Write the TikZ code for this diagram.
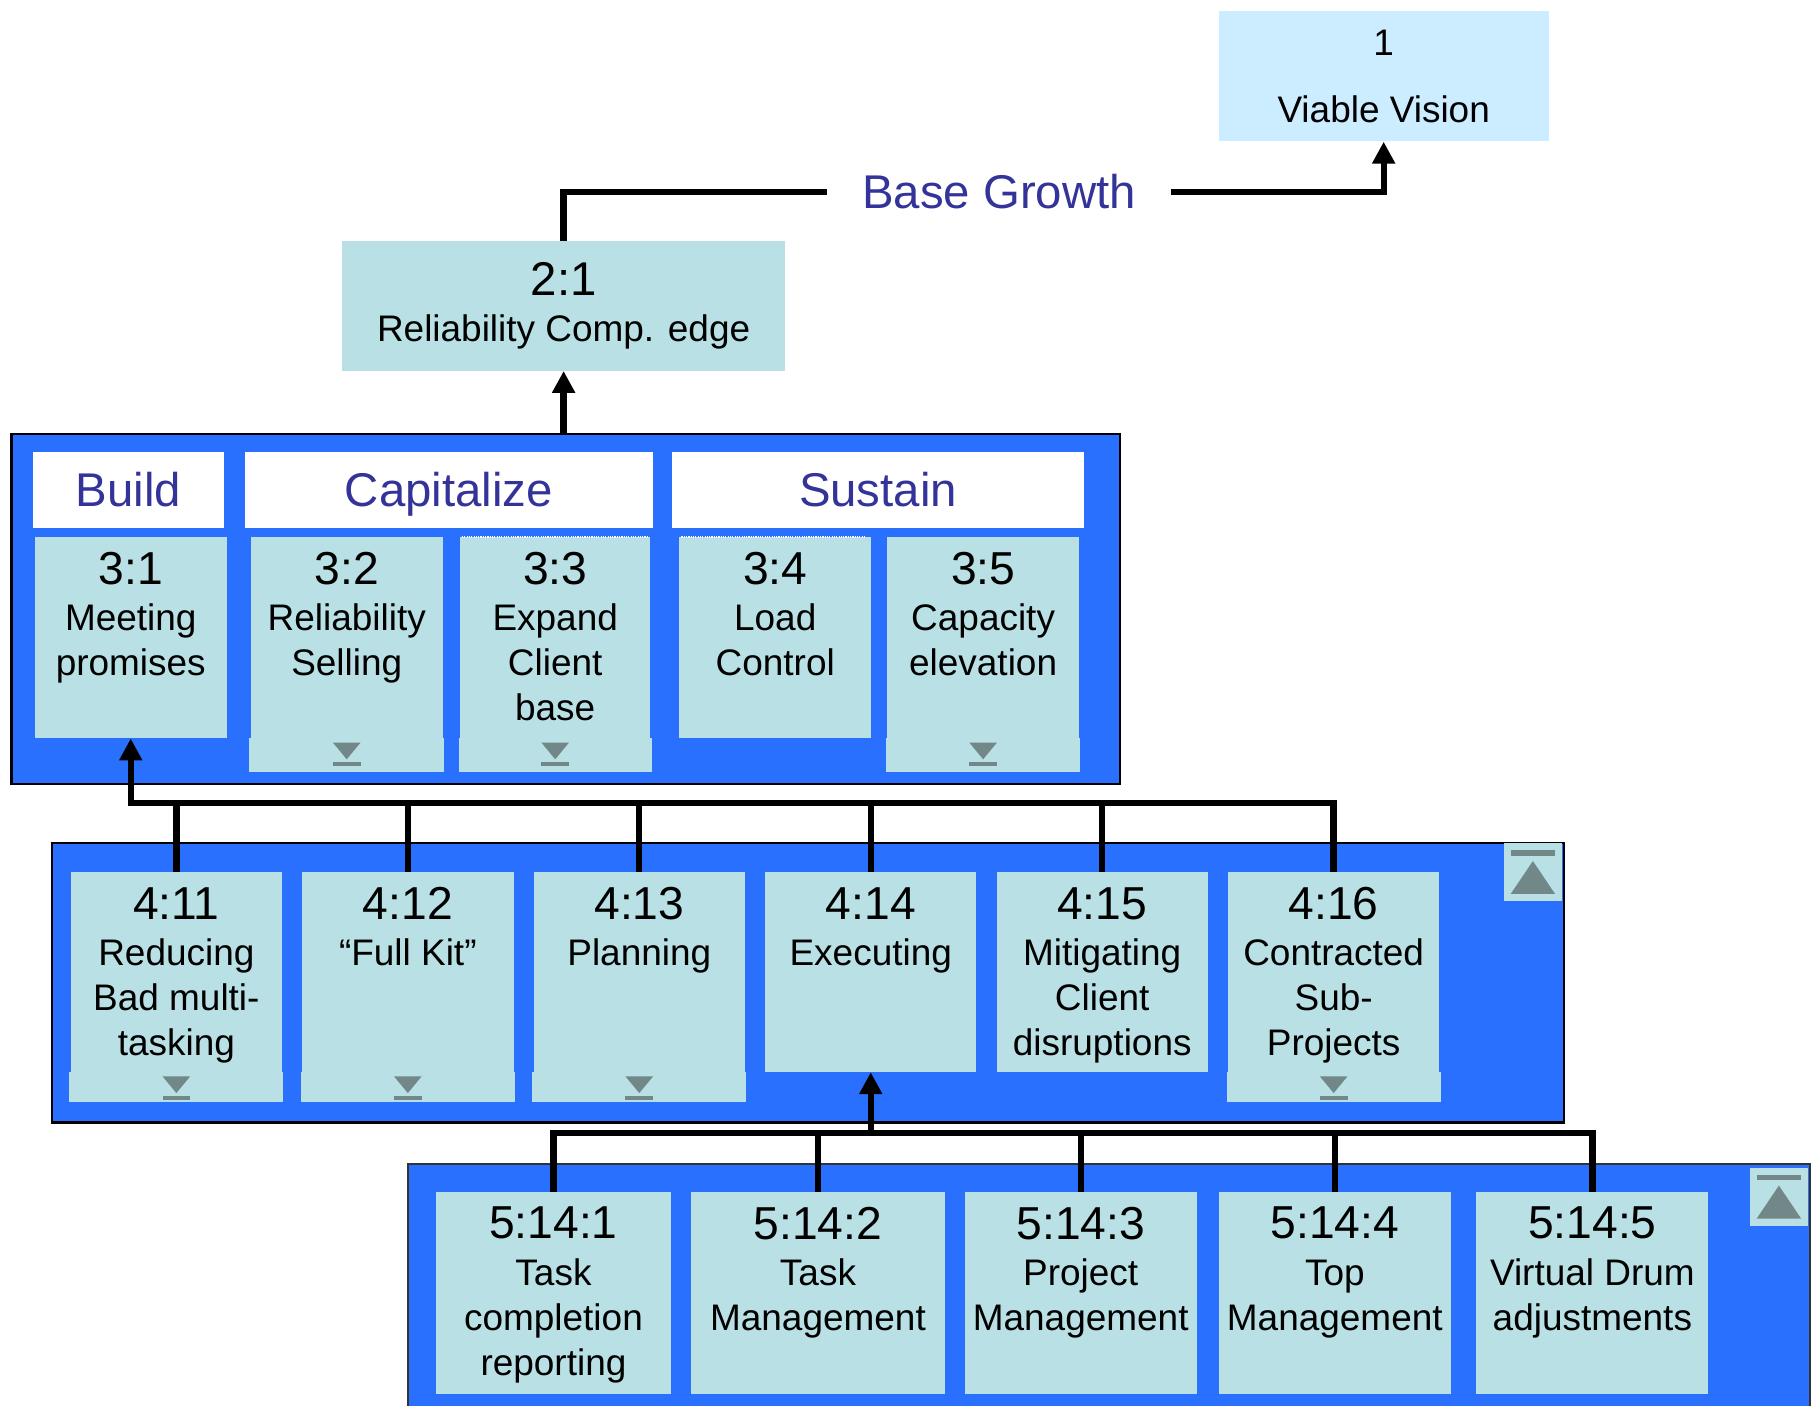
\documentclass[tikz,border=0pt]{standalone}
\usepackage{fontspec}
\setmainfont{Liberation Sans}
\usetikzlibrary{positioning,arrows.meta}

\definecolor{grpblue}{HTML}{2970FF}
\definecolor{cardfill}{HTML}{B9E0E4}
\definecolor{visionfill}{HTML}{CCECFF}
\definecolor{headblue}{HTML}{333399}
\definecolor{markgray}{HTML}{728888}

\tikzset{
  grpbox/.style={fill=grpblue, draw=black, line width=2pt, inner sep=0pt, anchor=north west},
  cardbox/.style={fill=cardfill, inner sep=0pt, anchor=north west},
  headbox/.style={fill=white, text=headblue, font=\fontsize{41}{41}\selectfont,
    minimum height=66pt, inner sep=0pt, text height=29pt, text depth=0pt, anchor=north west},
  headtext/.style={text=headblue, font=\fontsize{41}{41}\selectfont,
    inner xsep=30pt, inner ysep=0pt, text height=29pt, text depth=0pt},
  visionbox/.style={fill=visionfill, minimum width=286pt, minimum height=113pt,
    inner sep=0pt, align=center, font=\fontsize{32}{39}\selectfont},
  edgebox/.style={fill=cardfill, minimum width=384pt, minimum height=112pt,
    inner sep=0pt, align=center, font=\fontsize{32}{40}\selectfont},
  btnbox/.style={fill=cardfill, minimum size=50pt, inner sep=0pt, anchor=north west},
  link/.style={draw=black, line width=5.5pt},
  arrowup/.style={-{Triangle[length=19pt,width=19pt]}}
}

% card text: width, height, number, body
\newcommand{\cardtext}[4]{\parbox[t][#2][t]{#1}{\centering\fontsize{32}{39}\selectfont
  \vspace*{13pt}{\fontsize{40}{40}\selectfont #3}\\[1pt]#4}}
% expand tab below a card: node, tab height
\newcommand{\cardtab}[2]{%
  \fill[cardfill] ([xshift=-1pt]#1.south west) rectangle ([xshift=1pt,yshift=-#2]#1.south east);
  \fill[markgray] ([xshift=-12pt,yshift=-3.5pt]#1.south) -- ([xshift=12pt,yshift=-3.5pt]#1.south)
    -- ([yshift=-18pt]#1.south) -- cycle;
  \fill[markgray] ([xshift=-12pt,yshift=-20.5pt]#1.south) rectangle ([xshift=12pt,yshift=-24pt]#1.south);
}
% collapse button: name, top left corner
\newcommand{\upbutton}[2]{%
  \node[btnbox] (#1) at #2 {};
  \fill[markgray] ([xshift=6pt,yshift=-6pt]#1.north west) rectangle ([xshift=-6pt,yshift=-11pt]#1.north east);
  \fill[markgray] ([xshift=6pt,yshift=-44pt]#1.north west) -- ([xshift=-6pt,yshift=-44pt]#1.north east)
    -- ([yshift=-15.5pt]#1.north) -- cycle;
}

\begin{document}
\begin{tikzpicture}[x=1pt, y=-1pt, node distance=17pt]
\useasboundingbox (0,0) rectangle (1568,1217);
\clip (0,0) rectangle (1568,1217);

% top
\node[visionbox] (vv) at (1198,66) {1\\[19pt]Viable Vision};
\node[edgebox] (v21) at (488,265) {{\fontsize{41}{41}\selectfont 2:1}\\Reliability Comp. edge};
\node[headtext] (bg) at (865,166) {Base Growth};
\draw[link] (v21.north) |- (bg.west);
\draw[link, arrowup] (bg.east) -| (vv.south);

% level 3
\node[grpbox, minimum width=960pt, minimum height=303pt] (grp3) at (9,375) {};
\node[headbox, minimum width=166pt] (hbuild) at (28,391) {Build};
\node[headbox, minimum width=353pt] (hcap) at (212,391) {Capitalize};
\node[headbox, minimum width=356pt] (hsus) at (582,391) {Sustain};
\node[cardbox] (c31) at (30,465) {\cardtext{166pt}{174pt}{3:1}{Meeting\\promises}};
\node[cardbox] (c32) at (217,465) {\cardtext{166pt}{174pt}{3:2}{Reliability\\Selling}};
\node[cardbox] (c33) at (398,465) {\cardtext{165pt}{174pt}{3:3}{Expand\\Client\\base}};
\node[cardbox] (c34) at (588,465) {\cardtext{166pt}{174pt}{3:4}{Load\\Control}};
\node[cardbox] (c35) at (768,465) {\cardtext{166pt}{174pt}{3:5}{Capacity\\elevation}};
\cardtab{c32}{29pt}
\cardtab{c33}{29pt}
\cardtab{c35}{29pt}
\draw[white, densely dotted, line width=1pt] ([xshift=2pt]c33.north west) -- ([xshift=-3pt]c33.north east);
\draw[white, densely dotted, line width=1pt] ([xshift=2pt]c34.north west) -- ([xshift=-6pt]c34.north east);
\draw[link, arrowup] (grp3.north -| v21.south) -- (v21.south);

% level 4
\node[grpbox, minimum width=1309pt, minimum height=242pt] (grp4) at (44,729) {};
\upbutton{bt4}{(1302,730)}
\node[cardbox] (c411) at (61,755) {\cardtext{183pt}{173pt}{4:11}{Reducing\\Bad multi-\\tasking}};
\node[cardbox, right=of c411] (c412) {\cardtext{183pt}{173pt}{4:12}{“Full Kit”}};
\node[cardbox, right=of c412] (c413) {\cardtext{183pt}{173pt}{4:13}{Planning}};
\node[cardbox, right=of c413] (c414) {\cardtext{183pt}{173pt}{4:14}{Executing}};
\node[cardbox, right=of c414] (c415) {\cardtext{183pt}{173pt}{4:15}{Mitigating\\Client\\disruptions}};
\node[cardbox, right=of c415] (c416) {\cardtext{183pt}{173pt}{4:16}{Contracted\\Sub-\\Projects}};
\cardtab{c411}{26pt}
\cardtab{c412}{26pt}
\cardtab{c413}{26pt}
\cardtab{c416}{26pt}

\coordinate (bus4) at ([yshift=60pt]c411.north);
\draw[link] (c411.north) -- (c411.north |- bus4);
\draw[link] (c412.north) -- (c412.north |- bus4);
\draw[link] (c413.north) -- (c413.north |- bus4);
\draw[link] (c414.north) -- (c414.north |- bus4);
\draw[link] (c415.north) -- (c415.north |- bus4);
\draw[link, arrowup] (c416.north) |- (c31.south |- bus4) -- (c31.south);

% level 5
\node[grpbox, draw=black!80, minimum width=1214pt, minimum height=240pt] (grp5) at (352,1007) {};
\upbutton{bt5}{(1515,1011)}
\node[cardbox] (c5141) at (377,1032) {\cardtext{204pt}{175pt}{5:14:1}{Task\\completion\\reporting}};
\node[cardbox] (c5142) at (598,1032) {\cardtext{220pt}{175pt}{5:14:2}{Task\\Management}};
\node[cardbox] (c5143) at (835,1032) {\cardtext{201pt}{175pt}{5:14:3}{Project\\Management}};
\node[cardbox] (c5144) at (1055,1032) {\cardtext{201pt}{175pt}{5:14:4}{Top\\Management}};
\node[cardbox] (c5145) at (1278,1032) {\cardtext{201pt}{175pt}{5:14:5}{Virtual Drum\\adjustments}};

\coordinate (bus5) at ([yshift=51pt]c5141.north);
\draw[link] (c5141.north) |- (c5145.north |- bus5) -- (c5145.north);
\draw[link] (c5142.north) -- (c5142.north |- bus5);
\draw[link] (c5143.north) -- (c5143.north |- bus5);
\draw[link] (c5144.north) -- (c5144.north |- bus5);
\draw[link, arrowup] (c414.south |- bus5) -- (c414.south);
\end{tikzpicture}
\end{document}
